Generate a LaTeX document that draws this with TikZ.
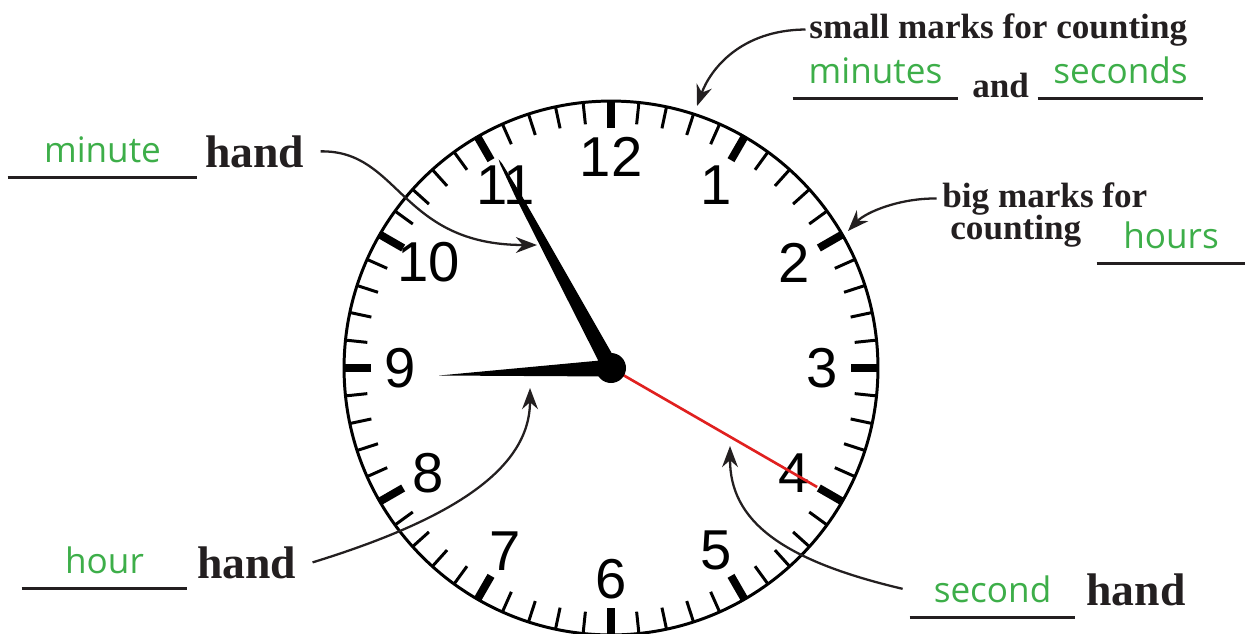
\documentclass[tikz,border=0pt]{standalone}
\usepackage{fontspec}
\setmainfont{Liberation Serif}
\newfontfamily\dialfont{Liberation Sans}
\newfontfamily\chalkfont{Open Sans}
\usepackage{xcolor}
\usetikzlibrary{arrows.meta}
\definecolor{ink}{HTML}{231F20}
\definecolor{ansgreen}{HTML}{3DAE49}
\definecolor{handred}{HTML}{E0201F}
\tikzset{
  handword/.style={font=\fontsize{26}{30}\selectfont\bfseries, text=ink, inner sep=0pt, anchor=base west},
  note/.style={font=\fontsize{20}{24}\selectfont\bfseries, text=ink, inner sep=0pt, anchor=base west},
  answer/.style={font=\chalkfont\fontsize{20}{24}\selectfont, text=ansgreen, inner sep=0pt, anchor=base},
  blank/.style={draw=ink, line width=1.4pt},
  pointer/.style={-{Stealth[length=12pt,width=9pt]}, line width=1.3pt, draw=ink},
  dial/.style={font=\dialfont\fontsize{32}{36}\selectfont, inner sep=0pt},
}
\begin{document}
\begin{tikzpicture}[x=0.02cm, y=-0.02cm]
  \useasboundingbox (0,0) rectangle (1246,633);
  % clock face
  \begin{scope}[shift={(611,368)}]
    \draw[line width=1.7pt] (0,0) circle (5.34cm);
    \foreach \m in {0,...,59}
      \draw[line width=1.7pt] (6*\m-90:245) -- (6*\m-90:267);
    \foreach \h in {1,...,12}{
      \draw[line width=4.5pt] (30*\h-90:240) -- (30*\h-90:267);
      \node[dial] (num\h) at (30*\h-90:211) {\h};
    }
    % hands
    \def\minang{241.7}
    \def\hourang{177.5}
    \fill (\minang+90:8) -- (\minang+0.9:195) -- (\minang+0.25:232) -- (\minang:237)
          -- (\minang-0.25:232) -- (\minang-0.9:195) -- (\minang-90:8) -- cycle;
    \fill (\hourang+90:8.5) -- (\hourang:172) -- (\hourang-90:8.5) -- cycle;
    \draw[handred, line width=1.5pt] (0,0) -- (30:238);
    \fill (0,0) circle (0.3cm);
  \end{scope}

  % labels
  \node[handword] (minutehand) at (205,167) {hand};
  \node[handword] (hourhand) at (197,578) {hand};
  \node[handword] (secondhand) at (1086,605) {hand};
  \node[note] (smallmarks) at (809,38) {small marks for counting};
  \node[note] (andword) at (972,97) {and};
  \node[note] (bigmarks) at (942,207) {big marks for};
  \node[note] (countingword) at (950,239) {counting};

  \node[answer, minimum width=3.78cm] (minuteans) at (102.5,162) {minute};
  \node[answer, minimum width=3.3cm] (minutesans) at (875.5,83) {minutes};
  \node[answer, minimum width=3.3cm] (secondsans) at (1120.5,83) {seconds};
  \node[answer, minimum width=2.96cm] (hoursans) at (1171,248) {hours};
  \node[answer, minimum width=3.3cm] (hourans) at (104.5,573) {hour};
  \node[answer, minimum width=3.3cm] (secondans) at (992.5,602) {second};
  \foreach \a in {minuteans,minutesans,secondsans,hoursans,hourans,secondans}
    \draw[blank] ([yshift=-8.5pt]\a.south west) -- ([yshift=-8.5pt]\a.south east);

  % pointers
  \coordinate (minutetarget) at (537,245);
  \coordinate (hourtarget) at (530,388);
  \coordinate (secondtarget) at (730,446);
  \coordinate (smalltarget) at (697,106);
  \coordinate (bigtarget) at (848,231);
  \draw[pointer] ([xshift=9pt]minutehand.east) .. controls (400,150) and (400,245) .. (minutetarget);
  \draw[pointer] ([xshift=9pt]hourhand.east) .. controls (450,520) and (530,470) .. (hourtarget);
  \draw[pointer] ([xshift=-4pt]secondans.west) .. controls (780,560) and (730,520) .. (secondtarget);
  \draw[pointer] ([xshift=-2pt]smallmarks.west) .. controls (740,30) and (710,70) .. (smalltarget);
  \draw[pointer] ([xshift=-3pt]bigmarks.west) .. controls (900,198) and (866,212) .. (bigtarget);
\end{tikzpicture}
\end{document}
